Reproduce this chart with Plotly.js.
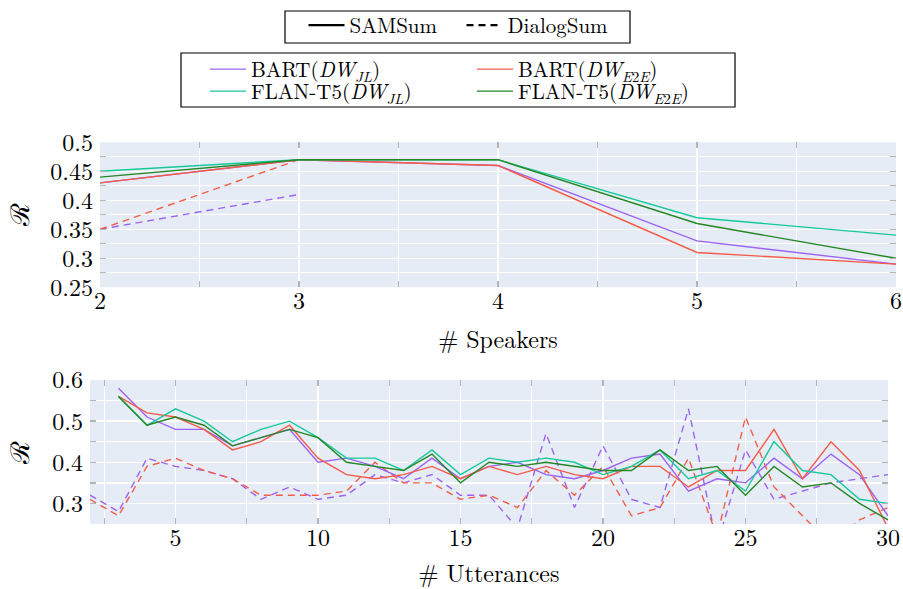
<!DOCTYPE html>
<html>
<head>
<meta charset="utf-8">
<script src="https://cdn.plot.ly/plotly-3.0.1.min.js"></script>
<style>
html,body{margin:0;padding:0;background:#ffffff;}
#chart{width:903px;height:589px;}
</style>
</head>
<body>
<div id="chart"></div>
<script>
// ---------- data ----------
const speakers = [2, 3, 4, 5, 6];
const spkBartJL_sam  = [0.43, 0.47, 0.46, 0.33, 0.29];
const spkBartE2E_sam = [0.43, 0.47, 0.46, 0.31, 0.29];
const spkFlanJL_sam  = [0.45, 0.47, 0.47, 0.37, 0.34];
const spkFlanE2E_sam = [0.44, 0.47, 0.47, 0.36, 0.30];
const spkBartJL_dlg  = [0.35, 0.41, null, null, null];
const spkBartE2E_dlg = [0.35, 0.47, null, null, null];

const utterances = [2, 3, 4, 5, 6, 7, 8, 9, 10, 11, 12, 13, 14, 15, 16, 17, 18, 19, 20, 21, 22, 23, 24, 25, 26, 27, 28, 29, 30];
const uttBartJL_sam  = [null, 0.58, 0.51, 0.48, 0.48, 0.44, 0.46, 0.48, 0.40, 0.41, 0.39, 0.36, 0.41, 0.36, 0.39, 0.40, 0.37, 0.36, 0.38, 0.41, 0.42, 0.33, 0.36, 0.35, 0.41, 0.36, 0.42, 0.37, 0.27];
const uttBartE2E_sam = [null, 0.56, 0.52, 0.51, 0.48, 0.43, 0.45, 0.49, 0.41, 0.37, 0.36, 0.37, 0.39, 0.36, 0.39, 0.37, 0.39, 0.37, 0.36, 0.39, 0.39, 0.34, 0.38, 0.38, 0.48, 0.36, 0.45, 0.38, 0.24];
const uttFlanJL_sam  = [null, 0.56, 0.49, 0.53, 0.50, 0.45, 0.48, 0.50, 0.46, 0.41, 0.41, 0.38, 0.43, 0.37, 0.41, 0.40, 0.41, 0.40, 0.37, 0.39, 0.43, 0.36, 0.38, 0.33, 0.45, 0.38, 0.37, 0.31, 0.30];
const uttFlanE2E_sam = [null, 0.56, 0.49, 0.51, 0.49, 0.44, 0.46, 0.48, 0.46, 0.40, 0.39, 0.38, 0.42, 0.35, 0.40, 0.39, 0.40, 0.39, 0.38, 0.38, 0.43, 0.38, 0.39, 0.32, 0.39, 0.34, 0.35, 0.30, 0.26];
const uttBartJL_dlg  = [0.32, 0.28, 0.41, 0.39, 0.38, 0.36, 0.31, 0.34, 0.31, 0.32, 0.37, 0.35, 0.37, 0.32, 0.32, 0.24, 0.47, 0.29, 0.44, 0.31, 0.29, 0.53, 0.20, 0.43, 0.31, 0.33, 0.35, 0.36, 0.37];
const uttBartE2E_dlg = [0.31, 0.27, 0.39, 0.41, 0.38, 0.36, 0.32, 0.32, 0.32, 0.33, 0.40, 0.35, 0.35, 0.31, 0.32, 0.29, 0.38, 0.32, 0.39, 0.27, 0.29, 0.41, 0.22, 0.51, 0.34, 0.27, 0.20, 0.26, 0.29];

const modelNames = [
  'BART(<i>DW</i><sub><i>JL</i></sub>)',
  'BART(<i>DW</i><sub><i>E</i>2<i>E</i></sub>)',
  'FLAN-T5(<i>DW</i><sub><i>JL</i></sub>)',
  'FLAN-T5(<i>DW</i><sub><i>E</i>2<i>E</i></sub>)'
];
const datasetNames = ['SAMSum', 'DialogSum'];

// ---------- styles ----------
const colors = ['#9c63f3', '#f45c48', '#16c99a', '#248724'];
const FONT = 'Latin Modern Roman';
const LW = 1.4;
const DASH = '7px,5px';

function line(x, y, xa, ya, color, dash, name, legend, show) {
  return {
    type: 'scatter', mode: 'lines', x: x, y: y, xaxis: xa, yaxis: ya,
    line: {color: color, width: LW, dash: dash},
    name: name, legend: legend, showlegend: show, hoverinfo: 'skip',
    connectgaps: false
  };
}

const traces = [
  // legend 1 dummies
  {type:'scatter', mode:'lines', x:[null], y:[null], xaxis:'x', yaxis:'y', name: datasetNames[0],
   line:{color:'#000', width:2.2}, legend:'legend', showlegend:true},
  {type:'scatter', mode:'lines', x:[null], y:[null], xaxis:'x', yaxis:'y', name: datasetNames[1],
   line:{color:'#000', width:2.2, dash:DASH}, legend:'legend', showlegend:true},
  // top dashed
  line(speakers, spkBartJL_dlg, 'x', 'y', colors[0], DASH, 'a', 'legend', false),
  line(speakers, spkBartE2E_dlg, 'x', 'y', colors[1], DASH, 'b', 'legend', false),
  // top solid (legend carriers)
  line(speakers, spkBartJL_sam, 'x', 'y', colors[0], 'solid', modelNames[0], 'legend2', true),
  line(speakers, spkBartE2E_sam, 'x', 'y', colors[1], 'solid', modelNames[1], 'legend2', true),
  line(speakers, spkFlanJL_sam, 'x', 'y', colors[2], 'solid', modelNames[2], 'legend3', true),
  line(speakers, spkFlanE2E_sam, 'x', 'y', colors[3], 'solid', modelNames[3], 'legend3', true),
  // bottom dashed
  line(utterances, uttBartJL_dlg, 'x2', 'y2', colors[0], DASH, 'c', 'legend', false),
  line(utterances, uttBartE2E_dlg, 'x2', 'y2', colors[1], DASH, 'd', 'legend', false),
  // bottom solid
  line(utterances, uttBartJL_sam, 'x2', 'y2', colors[0], 'solid', 'e', 'legend', false),
  line(utterances, uttBartE2E_sam, 'x2', 'y2', colors[1], 'solid', 'f', 'legend', false),
  line(utterances, uttFlanJL_sam, 'x2', 'y2', colors[2], 'solid', 'g', 'legend', false),
  line(utterances, uttFlanE2E_sam, 'x2', 'y2', colors[3], 'solid', 'h', 'legend', false)
];

const TICKC = '#b4b4b4';
function ax(extra, minorDtick) {
  const base = {
    showline: false, zeroline: false, showgrid: true,
    gridcolor: '#ffffff', gridwidth: 1.3,
    ticks: 'inside', ticklen: 6, tickwidth: 1.3, tickcolor: TICKC,
    mirror: 'ticks', tickmode: 'linear',
    tickfont: {family: FONT, size: 24, color: '#000'},
    fixedrange: true,
    minor: {dtick: minorDtick, ticks: 'inside', ticklen: 6, tickwidth: 1.3,
            tickcolor: TICKC, showgrid: true, gridcolor: '#ffffff', gridwidth: 1.3}
  };
  return Object.assign(base, extra);
}

const W = 903, H = 589;
const layout = {
  width: W, height: H,
  margin: {l: 0, r: 0, t: 0, b: 0},
  paper_bgcolor: '#ffffff',
  plot_bgcolor: '#e5ecf6',
  font: {family: FONT, color: '#000'},
  xaxis: ax({domain: [100 / W, 896 / W], range: [2, 6], tick0: 0, dtick: 1, anchor: 'y',
             ticklabelstandoff: -3,
             title: {text: '# Speakers', font: {family: FONT, size: 24}, standoff: 15}}, 0.5),
  yaxis: ax({domain: [1 - 287.3 / H, 1 - 142.3 / H], range: [0.25, 0.5], tick0: 0, dtick: 0.05, anchor: 'x',
             ticklabelstandoff: 6,
             title: {text: 'ℛ', font: {family: FONT, size: 26}, standoff: 14}}, 0.025),
  xaxis2: ax({domain: [90 / W, 888 / W], range: [2, 30], tick0: 0, dtick: 5, anchor: 'y2',
              ticklabelstandoff: -3,
              title: {text: '# Utterances', font: {family: FONT, size: 24}, standoff: 16}}, 2.5),
  yaxis2: ax({domain: [1 - 524 / H, 1 - 380 / H], range: [0.25, 0.6], tick0: 0, dtick: 0.1, anchor: 'x2',
              ticklabelstandoff: 6,
              title: {text: 'ℛ', font: {family: FONT, size: 26}, standoff: 24}}, 0.05),
  legend: {orientation: 'h', x: 303.5 / W, xanchor: 'left', y: 1 - 5 / H, yanchor: 'top',
           bgcolor: 'rgba(0,0,0,0)', borderwidth: 0, itemwidth: 36,
           entrywidth: 107, entrywidthmode: 'pixels',
           font: {family: FONT, size: 21, color: '#000'}},
  legend2: {orientation: 'h', x: 205 / W, xanchor: 'left', y: 1 - 49 / H, yanchor: 'top',
            bgcolor: 'rgba(0,0,0,0)', borderwidth: 0, itemwidth: 36,
            entrywidth: 216, entrywidthmode: 'pixels',
            font: {family: FONT, size: 21, color: '#000'}},
  legend3: {orientation: 'h', x: 205 / W, xanchor: 'left', y: 1 - 71 / H, yanchor: 'top',
            bgcolor: 'rgba(0,0,0,0)', borderwidth: 0, itemwidth: 36,
            entrywidth: 216, entrywidthmode: 'pixels',
            font: {family: FONT, size: 21, color: '#000'}},
  shapes: [
    {type: 'rect', xref: 'paper', yref: 'paper', x0: 285 / W, x1: 630 / W, y0: 1 - 43 / H, y1: 1 - 11 / H,
     line: {color: '#000', width: 1.2}, fillcolor: 'rgba(0,0,0,0)'},
    {type: 'rect', xref: 'paper', yref: 'paper', x0: 181 / W, x1: 735 / W, y0: 1 - 107 / H, y1: 1 - 53 / H,
     line: {color: '#000', width: 1.2}, fillcolor: 'rgba(0,0,0,0)'}
  ],
  showlegend: true
};

Plotly.newPlot('chart', traces, layout, {displayModeBar: false, staticPlot: true});
</script>
</body>
</html>
